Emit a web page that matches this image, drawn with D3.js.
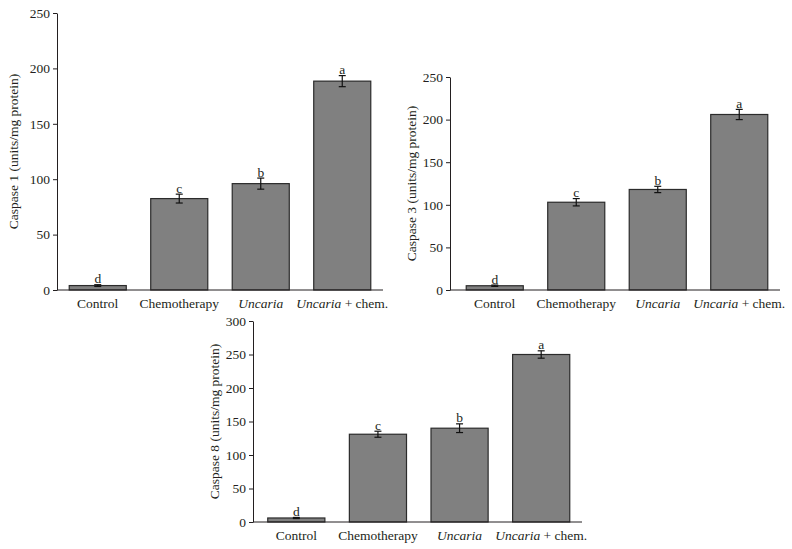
<!DOCTYPE html>
<html lang="en">
<head>
    <meta charset="UTF-8">
    <title>Caspase activity</title>
    <script src="https://d3js.org/d3.v7.min.js"></script>
    <style>
        body { margin: 0; background: #fff; }
        svg text { font-family: "Liberation Serif", "DejaVu Serif", serif; fill: #231f20; }
    </style>
</head>
<body>
    <svg id="chart" width="792" height="549"></svg>
    <script>
        // Data
        const categories = ['Control', 'Chemotherapy', 'Uncaria', 'Uncaria + chem.'];
        const letters = ['d', 'c', 'b', 'a'];

        const caspase1Values = [4, 82.5, 96, 188.5];
        const caspase1Errors = [0.8, 4, 5, 5];

        const caspase3Values = [5, 103, 118, 206];
        const caspase3Errors = [0.8, 4.3, 3.7, 6];

        const caspase8Values = [6, 131, 140, 250];
        const caspase8Errors = [0.8, 4.5, 6.5, 5.5];

        const svg = d3.select('#chart');

        // Each panel: axis box in page pixels
        const panels = [
            { label: 'Caspase 1 (units/mg protein)', values: caspase1Values, errors: caspase1Errors,
              yMax: 250, axisX: 57, bandX: [57, 383], top: 13, bottom: 290, labelX: 18 },
            { label: 'Caspase 3 (units/mg protein)', values: caspase3Values, errors: caspase3Errors,
              yMax: 250, axisX: 450, bandX: [454, 780], top: 77, bottom: 290, labelX: 416 },
            { label: 'Caspase 8 (units/mg protein)', values: caspase8Values, errors: caspase8Errors,
              yMax: 300, axisX: 253, bandX: [255.5, 582], top: 321, bottom: 522, labelX: 219 }
        ];

        function drawPanel(p) {
            const g = svg.append('g');

            const x = d3.scaleBand()
                .domain(categories)
                .range(p.bandX)
                .paddingInner(0.3)
                .paddingOuter(0.15);

            const y = d3.scaleLinear()
                .domain([0, p.yMax])
                .range([p.bottom, p.top]);

            // y axis
            const yAxis = g.append('g')
                .attr('transform', `translate(${p.axisX},0)`)
                .call(d3.axisLeft(y).tickValues(d3.range(0, p.yMax + 1, 50)).tickSize(4).tickPadding(3).tickSizeOuter(0));
            yAxis.selectAll('text').style('font-size', '13.5px').attr('font-family', null);
            yAxis.selectAll('line, path').attr('stroke', '#231f20');

            // bars
            g.selectAll('rect')
                .data(categories)
                .enter()
                .append('rect')
                .attr('x', d => x(d))
                .attr('y', (d, i) => y(p.values[i]))
                .attr('width', x.bandwidth())
                .attr('height', (d, i) => y(0) - y(p.values[i]))
                .attr('fill', '#808080')
                .attr('stroke', '#2b2b2b')
                .attr('stroke-width', 1.2);

            // error bars
            const capW = 3.5;
            categories.forEach((c, i) => {
                const cx = x(c) + x.bandwidth() / 2;
                const hi = y(p.values[i] + p.errors[i]);
                const lo = y(p.values[i] - p.errors[i]);
                const eg = g.append('g').attr('stroke', '#111').attr('stroke-width', 1.2);
                eg.append('line').attr('x1', cx).attr('x2', cx).attr('y1', hi).attr('y2', lo);
                eg.append('line').attr('x1', cx - capW).attr('x2', cx + capW).attr('y1', hi).attr('y2', hi);
                eg.append('line').attr('x1', cx - capW).attr('x2', cx + capW).attr('y1', lo).attr('y2', lo);

                g.append('text')
                    .attr('x', cx)
                    .attr('y', hi - 1.5)
                    .attr('text-anchor', 'middle')
                    .style('font-size', '13.5px')
                    .text(letters[i]);
            });

            // x axis line
            g.append('line')
                .attr('x1', p.axisX).attr('x2', p.bandX[1])
                .attr('y1', y(0)).attr('y2', y(0))
                .attr('stroke', '#231f20');

            // category labels (Uncaria in italics)
            categories.forEach(c => {
                const t = g.append('text')
                    .attr('x', x(c) + x.bandwidth() / 2)
                    .attr('y', y(0) + 18)
                    .attr('text-anchor', 'middle')
                    .style('font-size', '13.5px');
                if (c.startsWith('Uncaria')) {
                    t.append('tspan').style('font-style', 'italic').text('Uncaria');
                    t.append('tspan').text(c.slice(7));
                } else {
                    t.text(c);
                }
            });

            // y label
            g.append('text')
                .attr('transform', `translate(${p.labelX},${(p.top + p.bottom) / 2}) rotate(-90)`)
                .attr('text-anchor', 'middle')
                .style('font-size', '13.5px')
                .text(p.label);
        }

        panels.forEach(drawPanel);
    </script>
</body>
</html>
